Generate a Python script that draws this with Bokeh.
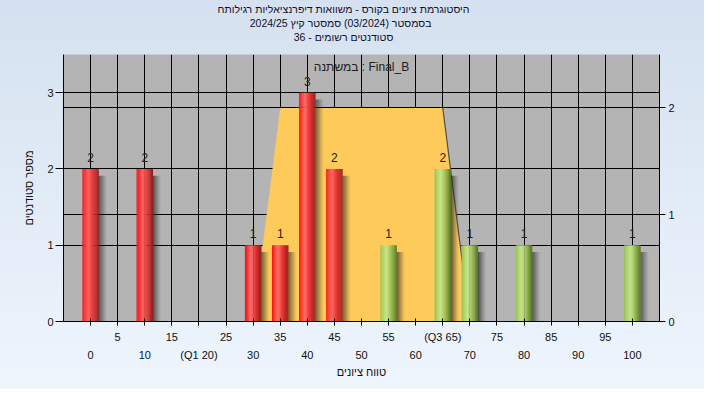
from bokeh.plotting import figure
from bokeh.models import Range1d, LinearAxis, FixedTicker, Grid, Label, Title
from bokeh.embed import file_html
from bokeh.resources import INLINE
from bokeh.core.properties import value

# ---------------- data ----------------
title_lines = [
    "היסטוגרמת ציונים בקורס - משוואות דיפרנציאליות רגילותח",
    "בסמסטר  (03/2024)  סמסטר קיץ 2024/25",
    "סטודנטים רשומים - 36",
]
grades = [0, 10, 30, 35, 40, 45, 55, 65, 70, 80, 100]
counts = [2, 2, 1, 1, 3, 2, 1, 2, 1, 1, 1]
pass_mark = 50
box_x = [30, 35, 65, 70]
box_y = [0, 2, 2, 0]
q1, q3 = 20, 65
odd_ticks = [5, 15, 25, 35, 45, 55, 65, 75, 85, 95]
even_ticks = [0, 10, 20, 30, 40, 50, 60, 70, 80, 90, 100]
left_ticks = [0, 1, 2, 3]
right_ticks = [0, 1, 2]
x_title = "טווח ציונים"
y_title = "מספר סטודנטים"
legend_text = "במשתנה : Final_B"

FONT = "Liberation Sans"

p = figure(width=704, height=389, output_backend="svg", toolbar_location=None,
           x_range=Range1d(-5, 105), y_range=Range1d(0, 3.5),
           min_border_left=63, min_border_right=45, min_border_top=54, min_border_bottom=68)
p.extra_y_ranges = {"right": Range1d(0, 2.5)}
p.background_fill_color = "#b4b4b4"
p.border_fill_color = None
p.border_fill_alpha = 0
p.outline_line_color = None
p.styles = {"background": "linear-gradient(#d5e1f0, #eef5fd)"}

# spacer between the title block and the frame
p.add_layout(Title(text="\u00a0", text_font=FONT, text_font_size="10.5px", standoff=-2,
                   padding={"left": 0, "right": 0, "top": 0, "bottom": 0}), "above")
# titles (added bottom-up: the last added is the top line)
standoffs = [1, -1, 0]
for t, so in reversed(list(zip(title_lines, standoffs))):
    p.add_layout(Title(text=t, align="center", text_font=FONT,
                       text_font_size="10.5px", text_font_style="normal", text_color="#101028",
                       standoff=so, padding={"left": 0, "right": 36, "top": 0, "bottom": 0}),
                 "above")

# ---------------- axes ----------------
all5 = sorted(odd_ticks + even_ticks)
xa = p.xaxis[0]
xa.ticker = FixedTicker(ticks=all5)
ov1 = {t: "" for t in even_ticks}
for t in odd_ticks:
    ov1[t] = "(Q3 %d)" % t if t == q3 else str(t)
xa.major_label_overrides = ov1
xa.major_tick_in = 3
xa.major_tick_out = 4
xa.major_label_standoff = 5

xa2 = LinearAxis(ticker=FixedTicker(ticks=even_ticks))
xa2.major_label_overrides = {t: ("(Q1 %d)" % t if t == q1 else str(t)) for t in even_ticks}
xa2.major_tick_out = 0
xa2.major_tick_in = 0
xa2.major_label_standoff = 3
xa2.axis_label = x_title
xa2.axis_label_standoff = 2
p.add_layout(xa2, "below")

ya = p.yaxis[0]
ya.ticker = FixedTicker(ticks=left_ticks)
ya.major_tick_out = 8
ya.major_tick_in = 0
ya.major_label_standoff = 2
ya.axis_label = y_title
ya.axis_label_standoff = 9

ra = LinearAxis(y_range_name="right", ticker=FixedTicker(ticks=right_ticks))
ra.major_tick_out = 6
ra.major_tick_in = 0
ra.major_label_standoff = 3
p.add_layout(ra, "right")

for ax in [xa, xa2, ya, ra]:
    ax.minor_tick_line_color = None
    ax.major_label_text_font = FONT
    ax.major_label_text_font_size = "11px"
    ax.major_label_text_color = "#101010"
    ax.axis_label_text_font = FONT
    ax.axis_label_text_font_size = "11px"
    ax.axis_label_text_font_style = "normal"
    ax.axis_label_text_color = "#101010"
    ax.axis_line_color = "black"
    ax.major_tick_line_color = "black"
xa2.axis_line_color = None
xa2.major_tick_line_color = None

# ---------------- grids ----------------
p.xgrid.ticker = FixedTicker(ticks=all5)
p.ygrid.ticker = FixedTicker(ticks=left_ticks)
rg = Grid(dimension=1, ticker=FixedTicker(ticks=right_ticks), y_range_name="right")
p.add_layout(rg)
for g in [p.xgrid[0], p.ygrid[0], rg]:
    g.grid_line_color = "black"
    g.grid_line_alpha = 1.0
    g.grid_line_width = 1

# ---------------- box (trapezoid) ----------------
p.patch(box_x, box_y, y_range_name="right", fill_color="#fecb5b", line_color=None)
p.line(box_x[2:], box_y[2:], y_range_name="right", line_color="#505050", line_width=1.2)

# ---------------- bars with gradient ----------------
def interp(stops, t):
    for (p0, c0), (p1, c1) in zip(stops[:-1], stops[1:]):
        if p0 <= t <= p1:
            f = (t - p0) / (p1 - p0)
            c = [int(round(a + (b - a) * f)) for a, b in zip(c0, c1)]
            return "#%02x%02x%02x" % tuple(c)
    return "#%02x%02x%02x" % stops[-1][1]

red_stops = [(0, (240, 22, 22)), (0.18, (255, 50, 50)), (0.36, (255, 100, 100)),
             (0.6, (238, 58, 58)), (0.85, (185, 36, 36)), (1.0, (140, 28, 28))]
green_stops = [(0, (150, 195, 75)), (0.22, (182, 218, 115)), (0.38, (200, 228, 140)),
               (0.6, (165, 200, 95)), (0.85, (115, 150, 55)), (1.0, (85, 112, 40))]

BW = 3.0
NS = 15
SHW = 1.5
NSH = 8
sx, sw, stop, sc = [], [], [], []
hx, hw, htop, ha = [], [], [], []
for g, c in zip(grades, counts):
    stops = green_stops if g >= pass_mark else red_stops
    left = g - BW / 2
    for j in range(NS):
        t = (j + 0.5) / NS
        sx.append(left + t * BW)
        sw.append(BW / NS * 1.25)
        stop.append(c)
        sc.append(interp(stops, t))
    for j in range(NSH):
        t = (j + 0.5) / NSH
        hx.append(g + BW / 2 + t * SHW)
        hw.append(SHW / NSH * 1.05)
        htop.append(c - 0.09)
        ha.append(0.75 * (1 - t) ** 1.2)

p.vbar(x=hx, width=hw, top=htop, bottom=0, fill_color="#2a2a2a", fill_alpha=ha, line_color=None)
p.vbar(x=sx, width=sw, top=stop, bottom=0, fill_color=sc, line_color=None)

p.text(x=grades, y=counts, text=[str(c) for c in counts], text_align="center",
       text_baseline="bottom", y_offset=-7, text_font=value(FONT), text_font_size="12px",
       text_color="#202020")

p.add_layout(Label(x=50, y=3.34, text=legend_text, text_align="center", text_baseline="middle",
                   text_font=FONT, text_font_size="12px", text_color="#202020"))

open("out.html", "w").write(file_html(p, INLINE))
